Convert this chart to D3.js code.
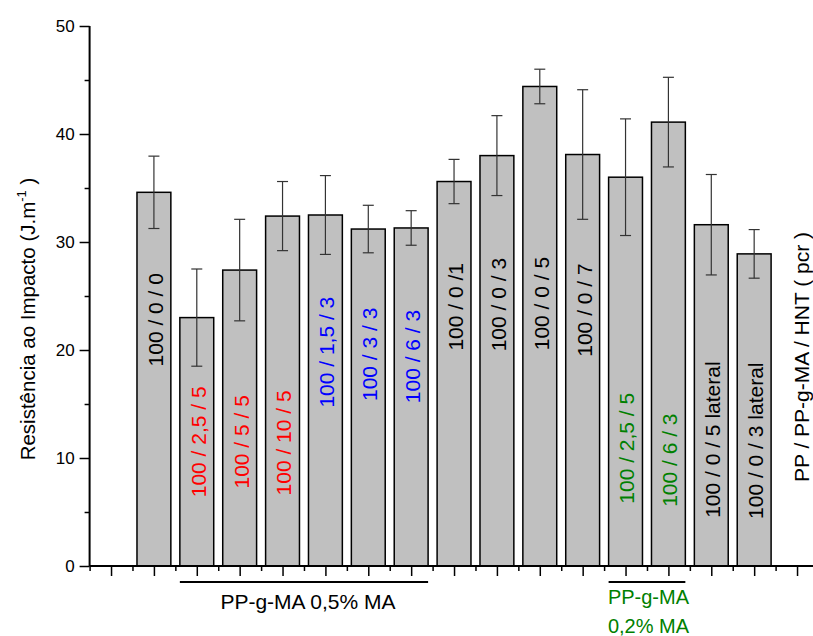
<!DOCTYPE html>
<html>
<head>
<meta charset="utf-8">
<script src="https://cdn.jsdelivr.net/npm/d3@7"></script>
<style>
  html, body { margin: 0; padding: 0; background: #fff; }
  svg { display: block; font-family: "Liberation Sans", Arial, sans-serif; }
</style>
</head>
<body>
<svg id="chart" width="813" height="636"></svg>
<script>
// ---- data ----
const categories = ["100 / 0 / 0", "100 / 2,5 / 5", "100 / 5 / 5", "100 / 10 / 5",
  "100 / 1,5 / 3", "100 / 3 / 3", "100 / 6 / 3", "100 / 0 /1", "100 / 0 / 3",
  "100 / 0 / 5", "100 / 0 / 7", "100 / 2,5 / 5", "100 / 6 / 3",
  "100 / 0 / 5 lateral", "100 / 0 / 3 lateral"];
const values = [34.6, 23.0, 27.4, 32.4, 32.5, 31.2, 31.3, 35.6, 38.0, 44.4, 38.1, 36.0, 41.1, 31.6, 28.9];
const errors = [3.35, 4.5, 4.7, 3.2, 3.65, 2.2, 1.6, 2.05, 3.7, 1.6, 6.0, 5.4, 4.15, 4.65, 2.25];
const labelGroup = ["none", "red", "red", "red", "blue", "blue", "blue", "none", "none",
  "none", "none", "green", "green", "none", "none"];
const labelAt = [22.8, 11.5, 11.5, 11.4, 19.8, 19.6, 19.4, 24.0, 24.2, 24.3, 23.7, 10.9, 9.8, 11.7, 11.6];
const yTicks = [0, 10, 20, 30, 40, 50];
const groupFirst = [1, 11];
const groupLast = [6, 12];
const groupText = [["PP-g-MA 0,5% MA"], ["PP-g-MA", "0,2% MA"]];
const yTitle = "Resistência ao Impacto (J.m";
const rightTitle = "PP / PP-g-MA / HNT (  pcr )";

// ---- layout ----
const svg = d3.select("#chart");
const x = d3.scaleLinear().domain([0.5, 17.5]).range([89.6, 89.6 + 17 * 42.875]);
const y = d3.scaleLinear().domain([0, 50]).range([566, 26]);
const barW = 0.79;
const colorOf = { none: "#000", red: "#ff0000", blue: "#0000ff", green: "#008000" };
const groupColor = ["#000", "#008000"];
const pos = i => i + 2;

// bars
svg.append("g").selectAll("rect").data(values).join("rect")
  .attr("x", (d, i) => x(pos(i) - barW / 2))
  .attr("width", x(barW) - x(0))
  .attr("y", d => y(d))
  .attr("height", d => y(0) - y(d))
  .attr("fill", "#c0c0c0")
  .attr("stroke", "#000")
  .attr("stroke-width", 1.5);

// error bars
const eb = svg.append("g").attr("stroke", "#333").attr("stroke-width", 1.2);
values.forEach((v, i) => {
  const cx = x(pos(i));
  eb.append("line").attr("x1", cx).attr("x2", cx).attr("y1", y(v - errors[i])).attr("y2", y(v + errors[i]));
  [v - errors[i], v + errors[i]].forEach(e => {
    eb.append("line").attr("x1", cx - 5.5).attr("x2", cx + 5.5).attr("y1", y(e)).attr("y2", y(e));
  });
});

// bar labels
svg.append("g").selectAll("text").data(categories).join("text")
  .attr("transform", (d, i) => `translate(${x(pos(i)) + 1.5},${y(labelAt[i])}) rotate(-90)`)
  .attr("text-anchor", "middle")
  .attr("dy", "0.35em")
  .attr("font-size", 21)
  .attr("fill", (d, i) => colorOf[labelGroup[i]])
  .text(d => d);

// y axis
const yAxis = d3.axisLeft(y).tickValues(yTicks).tickSize(10).tickPadding(5).tickFormat(d3.format("d"));
const gy = svg.append("g").attr("transform", `translate(${x(0.5)},0)`).call(yAxis);
gy.select(".domain").attr("stroke-width", 2).attr("d", `M0,${y(0)}V${y(50)}`);
gy.selectAll(".tick line").attr("stroke-width", 1.5);
gy.selectAll(".tick text").attr("font-size", 17).attr("font-family", "Liberation Sans, Arial, sans-serif").attr("fill", "#000");
const gyMinor = svg.append("g").attr("transform", `translate(${x(0.5)},0)`)
  .call(d3.axisLeft(y).tickValues([5, 15, 25, 35, 45]).tickSize(5).tickFormat(""));
gyMinor.select(".domain").remove();
gyMinor.selectAll(".tick line").attr("stroke-width", 1.5);

// x axis
const xMajor = d3.range(1, 18);
const xMinor = d3.range(0.5, 17.6, 1);
const gx = svg.append("g").attr("transform", `translate(0,${y(0)})`)
  .call(d3.axisBottom(x).tickValues(xMajor).tickSize(10).tickFormat(""));
gx.select(".domain").attr("stroke-width", 2).attr("d", `M${x(0.5)},0H${x(17.5)}`);
gx.selectAll(".tick line").attr("stroke-width", 1.5);
const gxm = svg.append("g").attr("transform", `translate(0,${y(0)})`)
  .call(d3.axisBottom(x).tickValues(xMinor).tickSize(5).tickFormat(""));
gxm.select(".domain").remove();
gxm.selectAll(".tick line").attr("stroke-width", 1.5);

// group brackets
groupFirst.forEach((f, k) => {
  const x1 = x(pos(f) - barW / 2), x2 = x(pos(groupLast[k]) + barW / 2);
  svg.append("line").attr("x1", x1).attr("x2", x2).attr("y1", 582).attr("y2", 582)
    .attr("stroke", "#000").attr("stroke-width", 2);
  const lines = groupText[k];
  lines.forEach((t, j) => {
    svg.append("text")
      .attr("x", (x1 + x2) / 2 + (k === 0 ? 4 : 1.5))
      .attr("y", lines.length === 1 ? 609 : 604 + j * 28.5)
      .attr("text-anchor", "middle")
      .attr("font-size", k === 0 ? 21 : 20)
      .attr("fill", groupColor[k])
      .text(t);
  });
});

// y title
const yt = svg.append("text")
  .attr("transform", `translate(35,319) rotate(-90)`)
  .attr("text-anchor", "middle")
  .attr("font-size", 20.5)
  .attr("fill", "#000");
yt.append("tspan").text(yTitle);
yt.append("tspan").attr("font-size", 13).attr("dy", -9).text("-1");
yt.append("tspan").attr("dy", 9).text(" )");

// right title
svg.append("text")
  .attr("transform", `translate(802,357) rotate(-90)`)
  .attr("text-anchor", "middle")
  .attr("dy", "0.35em")
  .attr("font-size", 21)
  .attr("fill", "#000")
  .text(rightTitle);
</script>
</body>
</html>
